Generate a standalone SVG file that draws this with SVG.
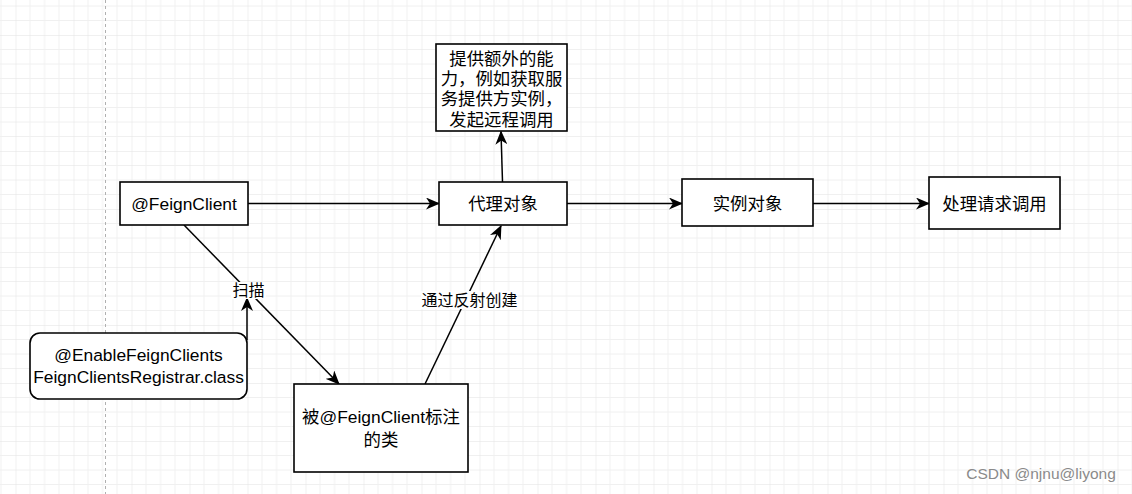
<svg xmlns="http://www.w3.org/2000/svg" width="1132" height="494" viewBox="0 0 1132 494">
<style>
.box{fill:#fff;stroke:#000;stroke-width:1.6}
.t{font-family:"Liberation Sans","Noto Sans CJK SC",sans-serif;font-size:17.4px;fill:#000;text-anchor:middle}
.lbl{font-family:"Liberation Sans","Noto Sans CJK SC",sans-serif;font-size:16px;fill:#000;text-anchor:middle}
.e{stroke:#000;stroke-width:1.5;fill:none;marker-end:url(#arr)}
</style>
<defs>
<pattern id="grid" patternUnits="userSpaceOnUse" x="15.5" y="35" width="58" height="58">
<path d="M14.5,0V58M29,0V58M43.5,0V58M0,14.5H58M0,29H58M0,43.5H58" stroke="#f0f0f0" stroke-width="1" fill="none"/>
<path d="M0,0V58M0,0H58" stroke="#e2e2e2" stroke-width="1" fill="none"/>
</pattern>
<marker id="arr" viewBox="0 0 14 12" refX="13" refY="6" markerWidth="14" markerHeight="12" markerUnits="userSpaceOnUse" orient="auto">
<path d="M0,0 L14,6 L0,12 L4,6 Z" fill="#000"/>
</marker>
</defs>
<rect width="1132" height="494" fill="#fff"/>
<rect width="1132" height="494" fill="url(#grid)"/>
<line x1="105.5" y1="0" x2="105.5" y2="494" stroke="#b0b0b0" stroke-width="1" stroke-dasharray="3,3"/>

<g id="connectors">
<line class="e" x1="248" y1="203.5" x2="439" y2="203.5"/>
<line class="e" x1="567" y1="203.5" x2="682" y2="203.5"/>
<line class="e" x1="813" y1="203.5" x2="929" y2="203.5"/>
<line class="e" x1="502.5" y1="182" x2="501" y2="131.5"/>
<line class="e" x1="184" y1="225" x2="339" y2="384"/>
<line class="e" x1="247" y1="340" x2="247" y2="298"/>
<line class="e" x1="425" y1="384" x2="501" y2="226"/>
<rect x="231" y="282" width="35" height="17" fill="#fff"/>
<text class="lbl" x="248.5" y="296">扫描</text>
<rect x="421" y="291" width="97" height="18" fill="#fff"/>
<text class="lbl" x="469.5" y="306">通过反射创建</text>
</g>

<g id="feignclient">
<rect class="box" x="120" y="182" width="128" height="43"/>
<text class="t" x="184" y="209.5">@FeignClient</text>
</g>
<g id="proxy">
<rect class="box" x="439" y="182" width="128" height="43"/>
<text class="t" x="503" y="210">代理对象</text>
</g>
<g id="extra">
<rect class="box" x="436" y="44" width="131" height="87"/>
<text class="t" x="501.5" y="64.5">提供额外的能</text>
<text class="t" x="501.5" y="84.5">力，例如获取服</text>
<text class="t" x="501.5" y="105">务提供方实例，</text>
<text class="t" x="501.5" y="125.5">发起远程调用</text>
</g>
<g id="instance">
<rect class="box" x="682" y="179" width="131" height="47"/>
<text class="t" x="747.5" y="210">实例对象</text>
</g>
<g id="handle">
<rect class="box" x="929" y="177" width="131" height="52"/>
<text class="t" x="994.5" y="210">处理请求调用</text>
</g>
<g id="enable">
<rect class="box" x="30" y="333" width="217" height="66" rx="10" ry="10"/>
<text class="t" x="138.5" y="360.5">@EnableFeignClients</text>
<text class="t" x="138.5" y="383">FeignClientsRegistrar.class</text>
</g>
<g id="annotated">
<rect class="box" x="294" y="384" width="174" height="88"/>
<text class="t" x="381" y="423">被@FeignClient标注</text>
<text class="t" x="381" y="446">的类</text>
</g>
<text x="1041" y="479" font-family="Liberation Sans,sans-serif" font-size="15.5" fill="#8a8a8a" text-anchor="middle">CSDN @njnu@liyong</text>
</svg>
